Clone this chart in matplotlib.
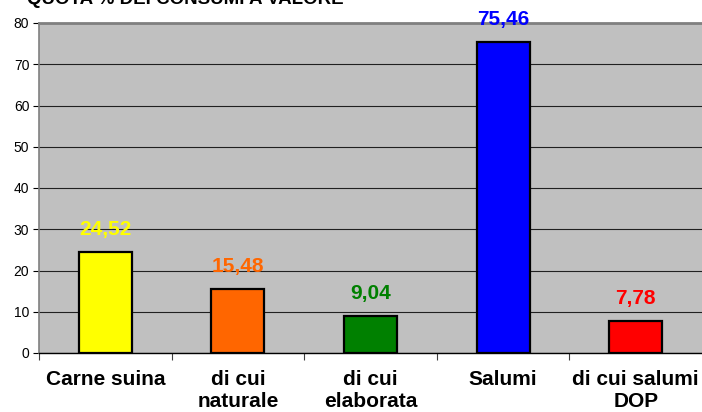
"""
Quota % dei consumi a valore - bar chart.
"""

import matplotlib
matplotlib.use("Agg")
import matplotlib.pyplot as plt

# ---------------------------------------------------------------------------
# Data
# ---------------------------------------------------------------------------
CATEGORIES = ["Carne suina", "di cui\nnaturale", "di cui\nelaborata",
              "Salumi", "di cui salumi\nDOP"]
VALUES     = [24.52, 15.48, 9.04, 75.46, 7.78]
LABELS     = ["24,52", "15,48", "9,04", "75,46", "7,78"]
COLORS     = ["#FFFF00", "#FF6600", "#008000", "#0000FF", "#FF0000"]
Y_TICKS    = [0, 10, 20, 30, 40, 50, 60, 70, 80]
TITLE      = "QUOTA % DEI CONSUMI A VALORE"

plt.rcParams["font.family"] = ["Liberation Sans", "DejaVu Sans"]

W, H = 702, 412
fig = plt.figure(figsize=(W / 100, H / 100), dpi=100)
ax = fig.add_axes([39 / W, 1 - 353 / H, 1 - 39 / W, (353 - 23) / H])
ax.set_facecolor("#C0C0C0")

x = list(range(len(CATEGORIES)))
ax.bar(x, VALUES, width=0.4, color=COLORS, edgecolor="black",
       linewidth=1.6, zorder=3)

for xi, v, lab, c in zip(x, VALUES, LABELS, COLORS):
    ax.annotate(lab, (xi, v), xytext=(0, 12), textcoords="offset points",
                ha="center", va="baseline", fontsize=15, fontweight="bold",
                color=c, zorder=4, annotation_clip=False)

ax.set_xlim(-0.5, len(CATEGORIES) - 0.5)
ax.set_ylim(0, 80)
ax.set_yticks(Y_TICKS)
ax.yaxis.grid(True, color="#202020", linewidth=0.8, zorder=0)
ax.tick_params(axis="y", labelsize=10, length=4, width=0.8, pad=3)

# category separators as ticks, labels in the middle
ax.set_xticks([i + 0.5 for i in x[:-1]] + [-0.5])
ax.set_xticklabels([])
ax.set_xticks(x, minor=True)
ax.set_xticklabels(CATEGORIES, minor=True, fontsize=15, fontweight="bold",
                   linespacing=1.2)
ax.tick_params(axis="x", which="major", length=5, width=0.8, color="#404040")
ax.tick_params(axis="x", which="minor", length=0, pad=12)

ax.spines["top"].set_color("#808080")
ax.spines["top"].set_linewidth(2)
ax.spines["right"].set_visible(False)
ax.spines["left"].set_color("#808080")
ax.spines["left"].set_linewidth(1.2)
ax.spines["bottom"].set_color("black")
ax.spines["bottom"].set_linewidth(1)

fig.text(27 / W, 1 - 4 / H, TITLE, fontsize=13.5, fontweight="bold",
         va="baseline", ha="left")

fig.savefig("out.png", dpi=100)
